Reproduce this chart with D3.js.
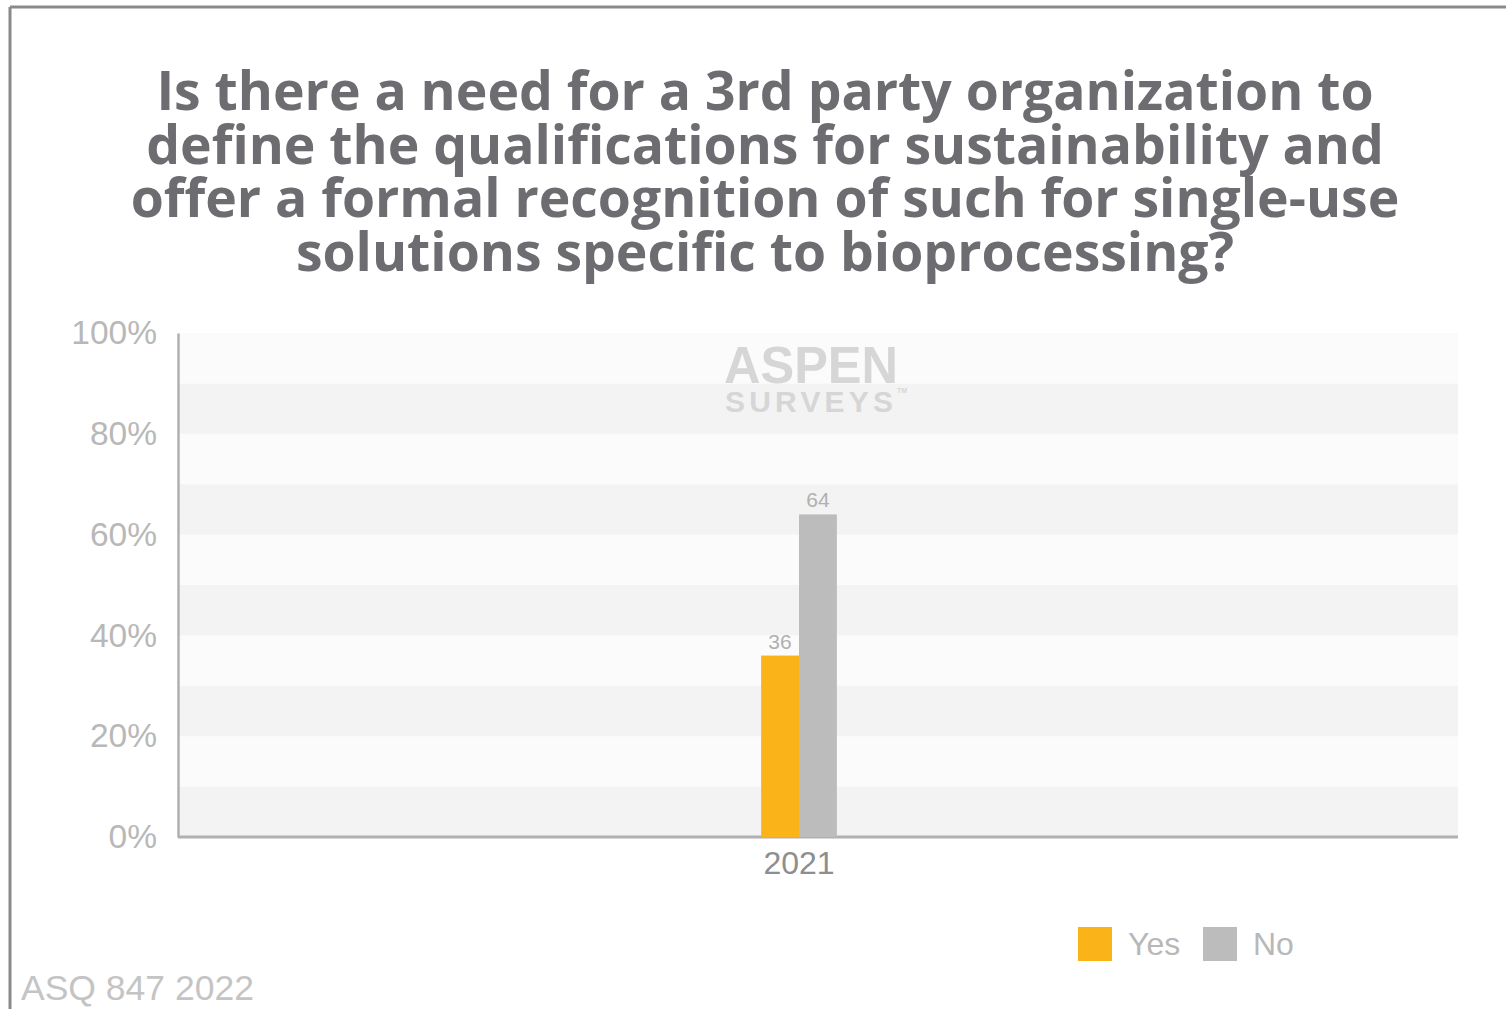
<!DOCTYPE html>
<html>
<head>
<meta charset="utf-8">
<script src="https://cdn.jsdelivr.net/npm/d3@7"></script>
<style>
  body { margin: 0; background: #fff; }
  svg { display: block; }
</style>
</head>
<body>
<svg id="mainFrame"></svg>
<script>
// chart data
const titleLines = [
    "Is there a need for a 3rd party organization to",
    "define the qualifications for sustainability and",
    "offer a formal recognition of such for single-use",
    "solutions specific to bioprocessing?"
];
const years = ["2021"];
const seriesNames = ["Yes", "No"];
const yesValues = [36];
const noValues = [64];
const yTicks = [0, 20, 40, 60, 80, 100];
const footnote = "ASQ 847 2022";

const width = 1506, height = 1009;
const colors = { Yes: "#fbb31a", No: "#bdbcbc" };

const svg = d3.select("#mainFrame")
    .attr("width", width)
    .attr("height", height);

// frame (top + left edge only visible)
svg.append("line").attr("x1", 10).attr("x2", width).attr("y1", 7).attr("y2", 7)
    .attr("stroke", "#8a8a8a").attr("stroke-width", 3);
svg.append("line").attr("x1", 10).attr("x2", 10).attr("y1", 7).attr("y2", height)
    .attr("stroke", "#8a8a8a").attr("stroke-width", 3);

// title
svg.append("g")
    .attr("font-family", "'Open Sans', sans-serif")
    .attr("font-weight", "bold")
    .attr("font-size", 53.5)
    .attr("fill", "#6d6d71")
    .attr("text-anchor", "middle")
    .selectAll("text")
    .data(titleLines)
    .join("text")
    .attr("x", 765)
    .attr("y", (d, i) => 110 + i * 53.5)
    .text(d => d);

const plotLeft = 178, plotRight = 1458, plotTop = 333, plotBottom = 837;

const y = d3.scaleLinear().domain([0, 100]).range([plotBottom, plotTop]);
const x0 = d3.scaleBand().domain(years).range([plotLeft, 1420]).padding(0.885);
const x1 = d3.scaleBand().domain(seriesNames).range([0, x0.bandwidth()]);

// alternating background bands every 10%
const bandStops = d3.range(0, 100, 10);
svg.append("g")
    .selectAll("rect")
    .data(bandStops)
    .join("rect")
    .attr("x", plotLeft)
    .attr("width", plotRight - plotLeft)
    .attr("y", d => y(d + 10))
    .attr("height", d => y(d) - y(d + 10))
    .attr("fill", d => (d / 10) % 2 === 1 ? "#fbfbfb" : "#f3f3f3");

// watermark
const wm = svg.append("g")
    .attr("font-family", "'Liberation Sans', Arial, sans-serif")
    .attr("font-weight", "bold")
    .attr("fill", "#d6d6d6");
wm.append("text").attr("x", 724).attr("y", 383).attr("font-size", 52)
    .attr("textLength", 174).attr("lengthAdjust", "spacingAndGlyphs").text("ASPEN");
wm.append("text").attr("x", 725).attr("y", 412).attr("font-size", 30)
    .attr("textLength", 168).attr("lengthAdjust", "spacing").text("SURVEYS");
wm.append("text").attr("x", 897).attr("y", 393).attr("font-size", 7).text("TM");

// y axis
const yAxis = svg.append("g")
    .attr("transform", `translate(${plotLeft},0)`)
    .call(d3.axisLeft(y).tickValues(yTicks).tickSize(0).tickPadding(21).tickFormat(d => d + "%"));
yAxis.select(".domain").attr("stroke", "#b0b0b0").attr("stroke-width", 2.5);
yAxis.selectAll("text")
    .attr("font-family", "'Liberation Sans', Arial, sans-serif")
    .attr("font-size", 33.5)
    .attr("fill", "#b8b8b8");

// x axis
const xAxis = svg.append("g")
    .attr("transform", `translate(0,${plotBottom})`)
    .call(d3.axisBottom(x0).tickSize(0).tickPadding(14));
xAxis.select(".domain").attr("d", `M${plotLeft},0H${plotRight}`)
    .attr("stroke", "#b0b0b0").attr("stroke-width", 3);
xAxis.selectAll("text")
    .attr("font-family", "'Liberation Sans', Arial, sans-serif")
    .attr("font-size", 32)
    .attr("fill", "#8e8e8e");

// bars
const rows = years.map((yr, i) => ({ year: yr, values: [
    { key: "Yes", value: yesValues[i] },
    { key: "No", value: noValues[i] }
] }));

const groups = svg.append("g")
    .selectAll("g")
    .data(rows)
    .join("g")
    .attr("transform", d => `translate(${x0(d.year)},0)`);

groups.selectAll("rect")
    .data(d => d.values)
    .join("rect")
    .attr("x", d => x1(d.key))
    .attr("y", d => y(d.value))
    .attr("width", x1.bandwidth())
    .attr("height", d => plotBottom - y(d.value))
    .attr("fill", d => colors[d.key]);

groups.selectAll("text")
    .data(d => d.values)
    .join("text")
    .attr("x", d => x1(d.key) + x1.bandwidth() / 2)
    .attr("y", d => y(d.value) - 7)
    .attr("text-anchor", "middle")
    .attr("font-family", "'Liberation Sans', Arial, sans-serif")
    .attr("font-size", 21)
    .attr("fill", "#b0b0b0")
    .text(d => d.value);

// legend
const legend = svg.append("g")
    .selectAll("g")
    .data(seriesNames)
    .join("g")
    .attr("transform", (d, i) => `translate(${1078 + i * 125},927)`);
legend.append("rect")
    .attr("width", 34).attr("height", 34)
    .attr("fill", d => colors[d]);
legend.append("text")
    .attr("x", 50).attr("y", 28)
    .attr("font-family", "'Liberation Sans', Arial, sans-serif")
    .attr("font-size", 32)
    .attr("fill", "#b8b8b8")
    .text(d => d);

// footnote
svg.append("text")
    .attr("x", 21).attr("y", 1000)
    .attr("font-family", "'Liberation Sans', Arial, sans-serif")
    .attr("font-size", 35.5)
    .attr("fill", "#c4c4c4")
    .text(footnote);
</script>
</body>
</html>
